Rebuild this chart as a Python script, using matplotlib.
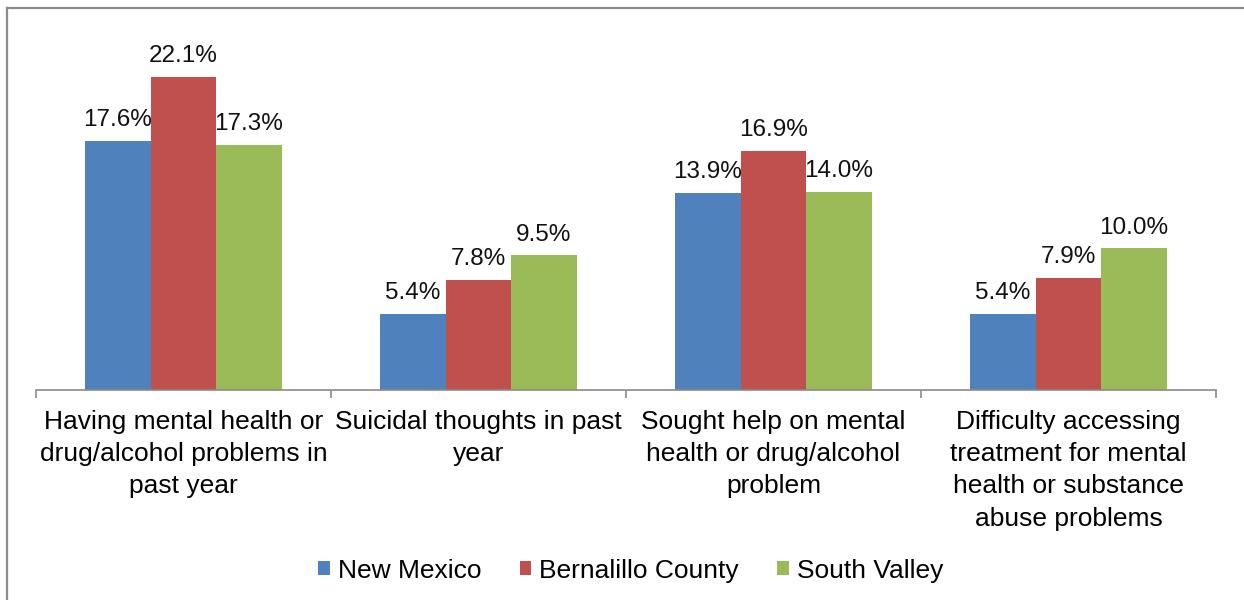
import numpy as np
import matplotlib.pyplot as plt
from matplotlib.lines import Line2D
from matplotlib.patches import Patch

plt.rcParams['font.family'] = ['Liberation Sans', 'DejaVu Sans']

categories = ['Having mental health or\ndrug/alcohol problems in\npast year',
              'Suicidal thoughts in past\nyear',
              'Sought help on mental\nhealth or drug/alcohol\nproblem',
              'Difficulty accessing\ntreatment for mental\nhealth or substance\nabuse problems']
regions = ['New Mexico', 'Bernalillo County', 'South Valley']
new_mexico = [17.6, 5.4, 13.9, 5.4]
bernalillo = [22.1, 7.8, 16.9, 7.9]
south_valley = [17.3, 9.5, 14.0, 10.0]
colors = ['#4F81BD', '#C0504D', '#9BBB59']

fig = plt.figure(figsize=(12.44, 6.0), dpi=100)
ax = fig.add_axes([36 / 1244, 210 / 600, 1180 / 1244, 354 / 600])

x = np.arange(len(categories))
w = 0.222
for i, (vals, c) in enumerate(zip([new_mexico, bernalillo, south_valley], colors)):
    pos = x + (i - 1) * w
    ax.bar(pos, vals, width=w, color=c, label=regions[i])
    for p, v in zip(pos, vals):
        ax.annotate(f'{v:.1f}%', (p, v), xytext=(0, 7), textcoords='offset points',
                    ha='center', va='bottom', fontsize=17.5, color='#111111')

ax.set_xlim(-0.5, len(categories) - 0.5)
ax.set_ylim(0, 25)
ax.set_yticks([])
for s in ['top', 'right', 'left']:
    ax.spines[s].set_visible(False)
ax.spines['bottom'].set_color('#8a8a8a')
ax.spines['bottom'].set_linewidth(1.2)

ax.set_xticks(x)
ax.set_xticklabels(categories, fontsize=19, linespacing=1.43)
ax.tick_params(axis='x', which='major', length=0, pad=14.5)
ax.set_xticks(np.arange(-0.5, len(categories)), minor=True)
ax.tick_params(axis='x', which='minor', length=6, width=1.2, color='#8a8a8a')

handles = [Patch(facecolor=c, edgecolor='none') for c in colors]
ax.legend(handles, regions, loc='center', bbox_to_anchor=(0.504, -0.51),
          ncol=3, frameon=False, handlelength=0.45, handleheight=0.45,
          handletextpad=0.3, columnspacing=1.45, fontsize=19)

# outer frame: left and top edges only
fig.add_artist(Line2D([7 / 1244, 7 / 1244], [0, 1 - 7.5 / 600], transform=fig.transFigure,
                      color='#8c8c8c', lw=1.6))
fig.add_artist(Line2D([7 / 1244, 1], [1 - 7.5 / 600, 1 - 7.5 / 600], transform=fig.transFigure,
                      color='#8c8c8c', lw=1.6))

fig.savefig('out.png', dpi=100)
